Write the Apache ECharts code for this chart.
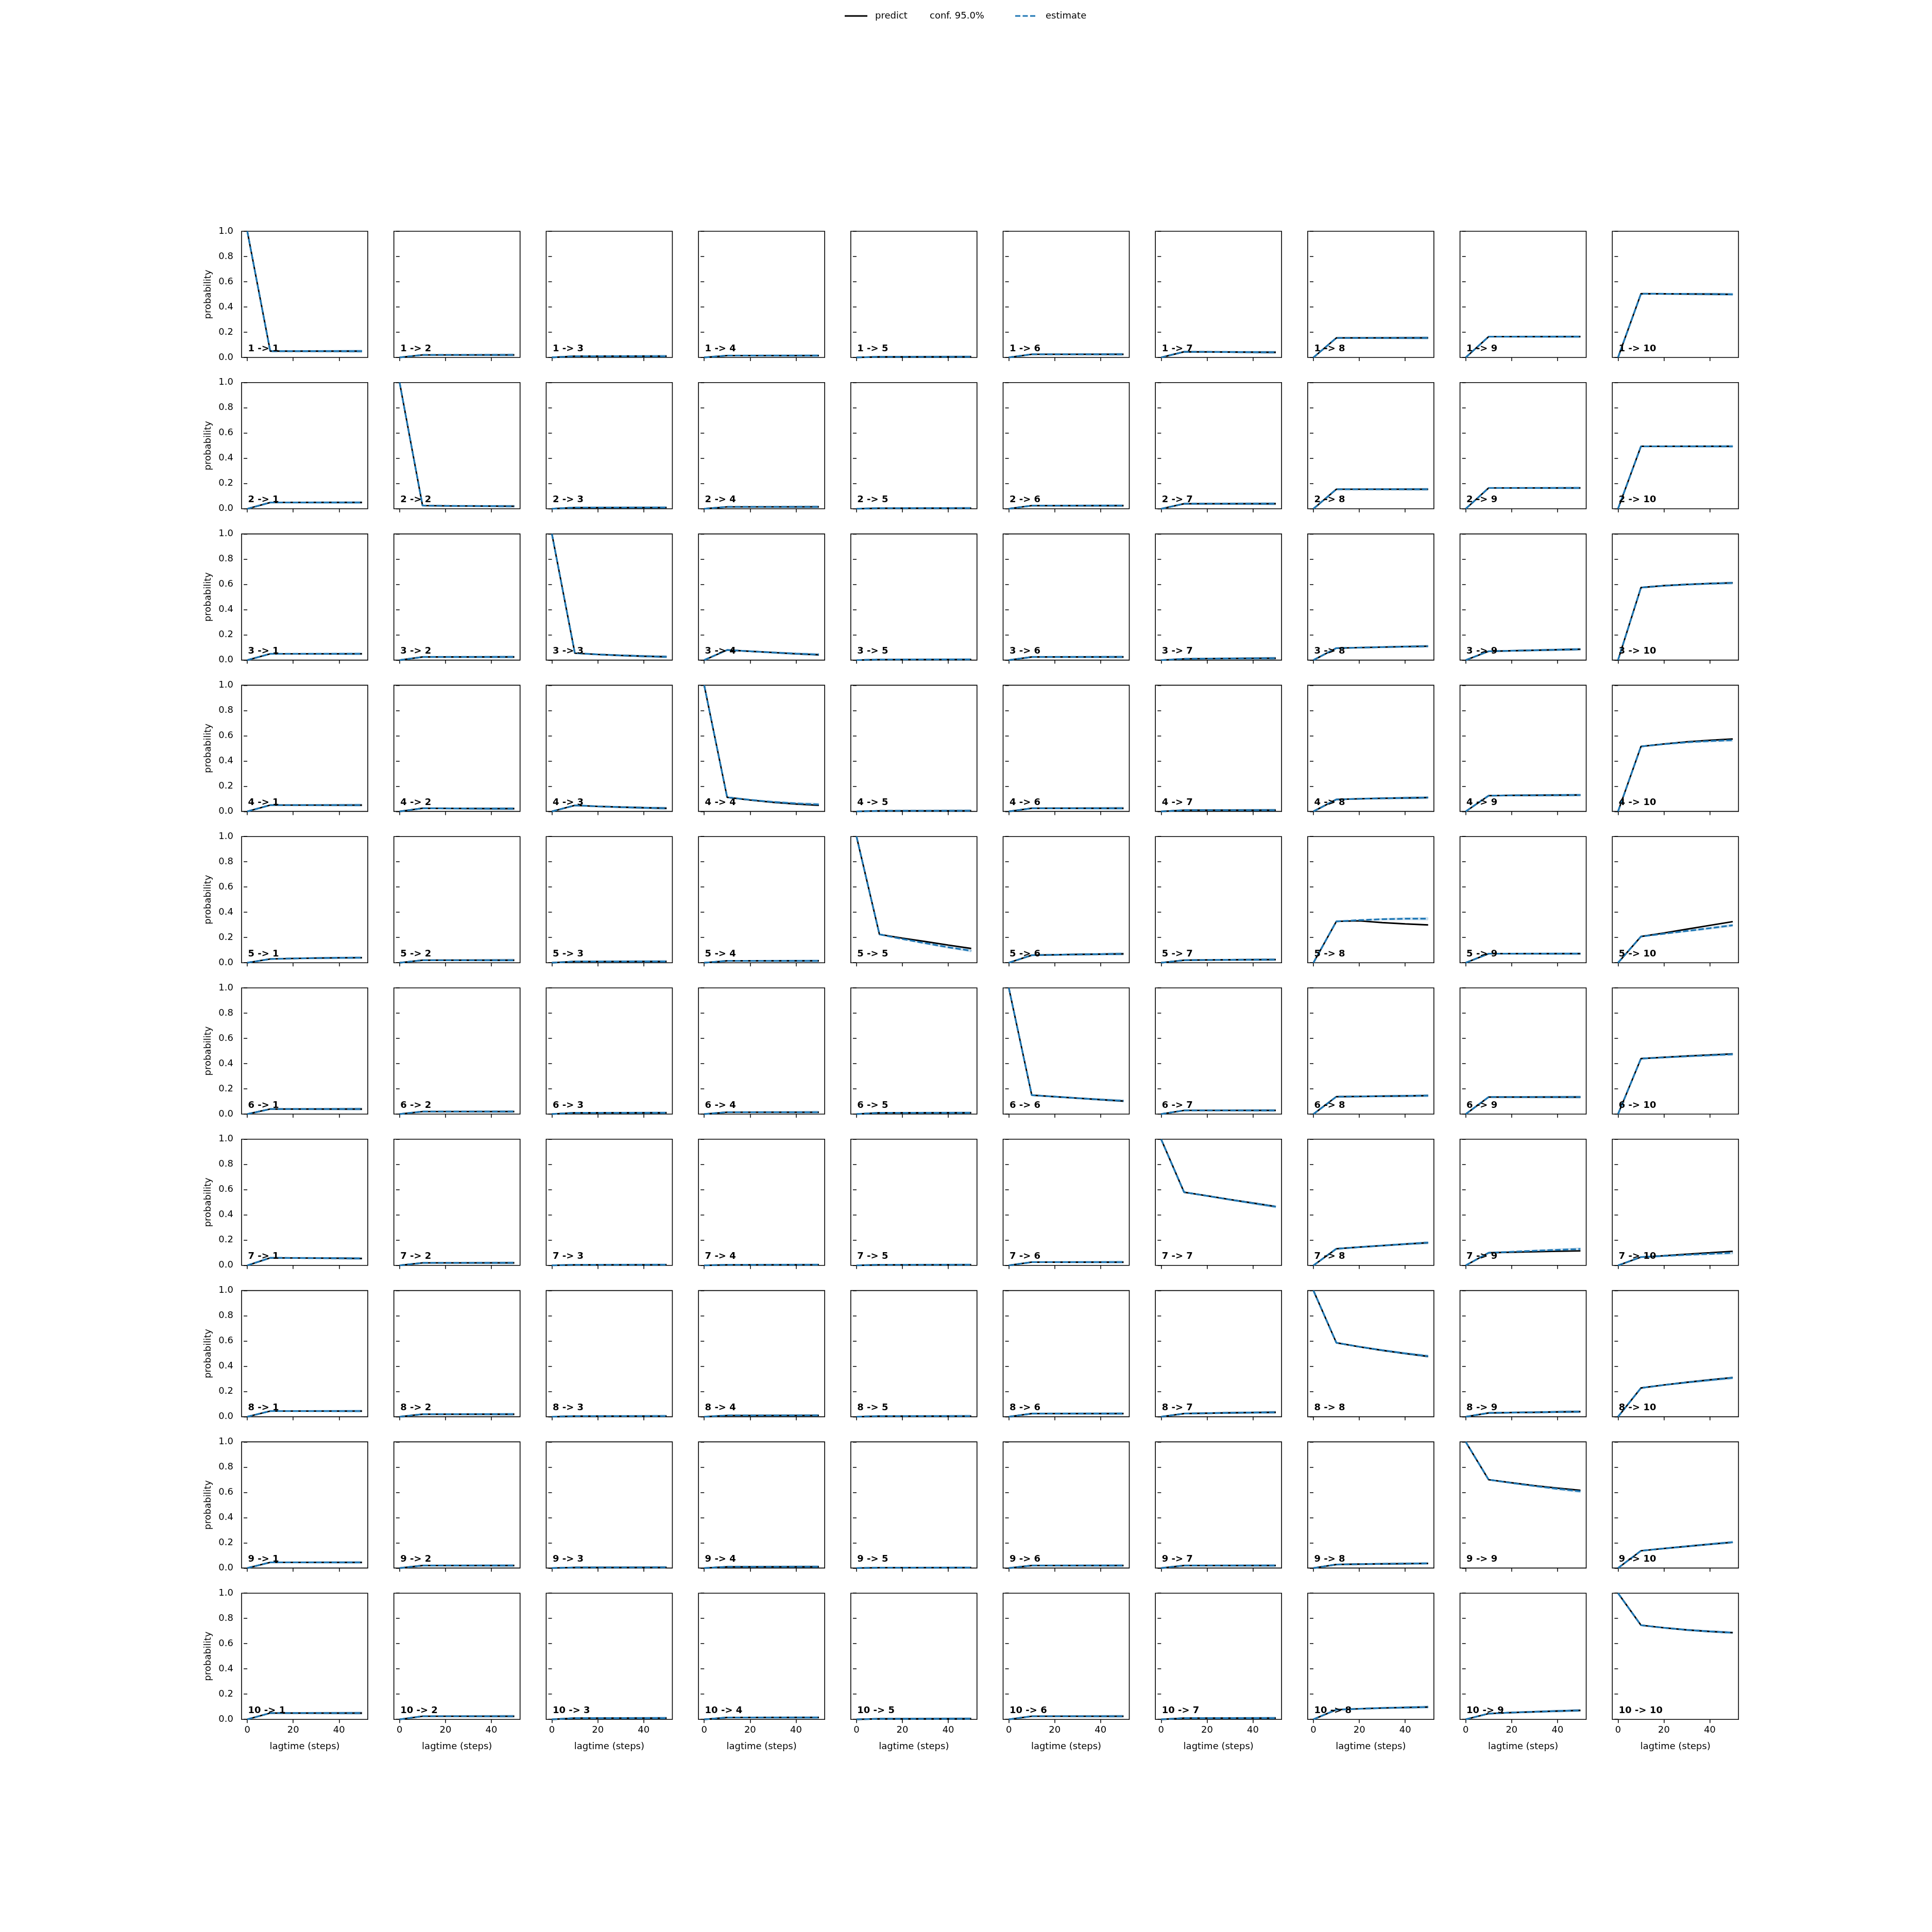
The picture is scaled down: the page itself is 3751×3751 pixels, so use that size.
<!DOCTYPE html>
<html><head><meta charset="utf-8">
<script src="https://cdn.jsdelivr.net/npm/echarts@6/dist/echarts.min.js"></script>
<style>html,body{margin:0;padding:0;background:#fff}#c{width:3751px;height:3751px}</style>
</head><body><div id="c"></div>
<script>
// ---------------- data ----------------
const lagtimes = [0, 10, 20, 30, 40, 50];
const stateLabels = ['1','2','3','4','5','6','7','8','9','10'];
const xTickValues = [0, 20, 40];
const yTickLabels = ['0.0','0.2','0.4','0.6','0.8','1.0'];
const legendNames = ['predict', 'conf. 95.0%', 'estimate'];

const predict_1 = [
 [1,0.05,0.05,0.05,0.05,0.05],[0,0.02,0.02,0.02,0.02,0.02],[0,0.01,0.01,0.01,0.01,0.01],
 [0,0.015,0.015,0.015,0.015,0.015],[0,0.005,0.005,0.005,0.005,0.005],[0,0.025,0.025,0.025,0.025,0.025],
 [0,0.045,0.044,0.043,0.042,0.041],[0,0.155,0.155,0.155,0.155,0.155],[0,0.165,0.165,0.165,0.165,0.165],
 [0,0.505,0.504,0.503,0.502,0.5]];
const estimate_1 = [
 [1,0.05,0.05,0.05,0.05,0.05],[0,0.02,0.02,0.02,0.02,0.02],[0,0.01,0.01,0.01,0.01,0.01],
 [0,0.015,0.015,0.015,0.015,0.015],[0,0.005,0.005,0.005,0.005,0.005],[0,0.025,0.025,0.025,0.025,0.025],
 [0,0.045,0.044,0.043,0.042,0.041],[0,0.155,0.155,0.155,0.155,0.155],[0,0.165,0.165,0.165,0.165,0.165],
 [0,0.505,0.504,0.503,0.502,0.5]];

const predict_2 = [
 [0,0.05,0.05,0.05,0.05,0.05],[1,0.025,0.023,0.022,0.021,0.02],[0,0.01,0.01,0.01,0.01,0.01],
 [0,0.015,0.015,0.015,0.015,0.015],[0,0.005,0.005,0.005,0.005,0.005],[0,0.025,0.025,0.025,0.025,0.025],
 [0,0.04,0.04,0.04,0.04,0.04],[0,0.155,0.155,0.155,0.155,0.155],[0,0.165,0.165,0.165,0.165,0.165],
 [0,0.495,0.495,0.495,0.495,0.495]];
const estimate_2 = [
 [0,0.05,0.05,0.05,0.05,0.05],[1,0.025,0.023,0.022,0.021,0.02],[0,0.01,0.01,0.01,0.01,0.01],
 [0,0.015,0.015,0.015,0.015,0.015],[0,0.005,0.005,0.005,0.005,0.005],[0,0.025,0.025,0.025,0.025,0.025],
 [0,0.04,0.04,0.04,0.04,0.04],[0,0.155,0.155,0.155,0.155,0.155],[0,0.165,0.165,0.165,0.165,0.165],
 [0,0.495,0.495,0.495,0.495,0.495]];

const predict_3 = [
 [0,0.05,0.05,0.05,0.05,0.05],[0,0.025,0.025,0.025,0.025,0.025],[1,0.055,0.045,0.037,0.031,0.026],
 [0,0.08,0.07,0.06,0.05,0.042],[0,0.005,0.005,0.005,0.005,0.005],[0,0.025,0.025,0.025,0.025,0.025],
 [0,0.01,0.012,0.013,0.014,0.015],[0,0.095,0.099,0.103,0.107,0.11],[0,0.07,0.074,0.078,0.082,0.086],
 [0,0.575,0.59,0.6,0.607,0.612]];
const estimate_3 = [
 [0,0.05,0.05,0.05,0.05,0.05],[0,0.025,0.025,0.025,0.025,0.025],[1,0.055,0.045,0.037,0.031,0.026],
 [0,0.08,0.07,0.06,0.051,0.044],[0,0.005,0.005,0.005,0.005,0.005],[0,0.025,0.025,0.025,0.025,0.025],
 [0,0.01,0.012,0.013,0.014,0.015],[0,0.095,0.099,0.103,0.107,0.11],[0,0.07,0.074,0.078,0.082,0.086],
 [0,0.575,0.589,0.599,0.606,0.611]];

const predict_4 = [
 [0,0.05,0.05,0.05,0.05,0.05],[0,0.025,0.024,0.023,0.022,0.022],[0,0.048,0.04,0.034,0.029,0.025],
 [1,0.112,0.09,0.072,0.059,0.048],[0,0.005,0.005,0.005,0.005,0.005],[0,0.025,0.025,0.025,0.025,0.025],
 [0,0.01,0.01,0.01,0.01,0.01],[0,0.095,0.1,0.104,0.107,0.11],[0,0.125,0.127,0.128,0.129,0.13],
 [0,0.515,0.535,0.552,0.564,0.574]];
const estimate_4 = [
 [0,0.05,0.05,0.05,0.05,0.05],[0,0.025,0.024,0.023,0.022,0.022],[0,0.048,0.04,0.034,0.029,0.025],
 [1,0.112,0.092,0.075,0.063,0.055],[0,0.005,0.005,0.005,0.005,0.005],[0,0.025,0.025,0.025,0.025,0.025],
 [0,0.01,0.01,0.01,0.01,0.01],[0,0.095,0.1,0.104,0.107,0.11],[0,0.125,0.127,0.128,0.129,0.13],
 [0,0.515,0.533,0.548,0.558,0.565]];

const predict_5 = [
 [0,0.03,0.034,0.037,0.039,0.04],[0,0.02,0.02,0.02,0.02,0.02],[0,0.01,0.01,0.01,0.01,0.01],
 [0,0.015,0.015,0.015,0.015,0.015],[1,0.225,0.195,0.168,0.14,0.113],[0,0.06,0.063,0.066,0.068,0.07],
 [0,0.02,0.022,0.023,0.024,0.025],[0,0.328,0.332,0.318,0.308,0.3],[0,0.072,0.072,0.072,0.072,0.072],
 [0,0.208,0.236,0.266,0.296,0.326]];
const estimate_5 = [
 [0,0.03,0.034,0.037,0.039,0.04],[0,0.02,0.02,0.02,0.02,0.02],[0,0.01,0.01,0.01,0.01,0.01],
 [0,0.015,0.015,0.015,0.015,0.015],[1,0.225,0.188,0.155,0.123,0.095],[0,0.06,0.063,0.066,0.068,0.07],
 [0,0.02,0.022,0.023,0.024,0.025],[0,0.328,0.338,0.345,0.349,0.349],[0,0.072,0.072,0.072,0.072,0.072],
 [0,0.208,0.23,0.252,0.274,0.297]];

const predict_6 = [
 [0,0.04,0.04,0.04,0.04,0.04],[0,0.02,0.02,0.02,0.02,0.02],[0,0.01,0.01,0.01,0.01,0.01],
 [0,0.015,0.015,0.015,0.015,0.015],[0,0.01,0.01,0.01,0.01,0.01],[1,0.15,0.138,0.126,0.114,0.103],
 [0,0.029,0.029,0.029,0.029,0.029],[0,0.138,0.14,0.142,0.144,0.146],[0,0.135,0.135,0.135,0.135,0.135],
 [0,0.44,0.45,0.46,0.469,0.477]];
const estimate_6 = [
 [0,0.04,0.04,0.04,0.04,0.04],[0,0.02,0.02,0.02,0.02,0.02],[0,0.01,0.01,0.01,0.01,0.01],
 [0,0.015,0.015,0.015,0.015,0.015],[0,0.01,0.01,0.01,0.01,0.01],[1,0.15,0.138,0.126,0.115,0.105],
 [0,0.029,0.029,0.029,0.029,0.029],[0,0.138,0.14,0.142,0.144,0.146],[0,0.135,0.135,0.135,0.135,0.135],
 [0,0.44,0.449,0.458,0.466,0.474]];

const predict_7 = [
 [0,0.06,0.059,0.058,0.057,0.055],[0,0.02,0.02,0.02,0.02,0.02],[0,0.005,0.005,0.005,0.005,0.005],
 [0,0.005,0.005,0.005,0.005,0.005],[0,0.005,0.005,0.005,0.005,0.005],[0,0.026,0.026,0.026,0.026,0.026],
 [1,0.58,0.552,0.522,0.494,0.466],[0,0.132,0.145,0.157,0.169,0.18],[0,0.1,0.104,0.108,0.112,0.115],
 [0,0.066,0.077,0.089,0.1,0.112]];
const estimate_7 = [
 [0,0.06,0.059,0.058,0.057,0.055],[0,0.02,0.02,0.02,0.02,0.02],[0,0.005,0.005,0.005,0.005,0.005],
 [0,0.005,0.005,0.005,0.005,0.005],[0,0.005,0.005,0.005,0.005,0.005],[0,0.026,0.026,0.026,0.026,0.026],
 [1,0.58,0.551,0.521,0.493,0.465],[0,0.132,0.145,0.157,0.169,0.18],[0,0.1,0.108,0.116,0.123,0.13],
 [0,0.066,0.075,0.084,0.092,0.1]];

const predict_8 = [
 [0,0.045,0.045,0.045,0.045,0.045],[0,0.02,0.02,0.02,0.02,0.02],[0,0.005,0.005,0.005,0.005,0.005],
 [0,0.01,0.01,0.01,0.01,0.01],[0,0.005,0.005,0.005,0.005,0.005],[0,0.025,0.025,0.025,0.025,0.025],
 [0,0.025,0.028,0.031,0.033,0.035],[1,0.586,0.554,0.526,0.501,0.478],[0,0.03,0.033,0.035,0.038,0.04],
 [0,0.228,0.252,0.273,0.292,0.31]];
const estimate_8 = [
 [0,0.045,0.045,0.045,0.045,0.045],[0,0.02,0.02,0.02,0.02,0.02],[0,0.005,0.005,0.005,0.005,0.005],
 [0,0.01,0.01,0.01,0.01,0.01],[0,0.005,0.005,0.005,0.005,0.005],[0,0.025,0.025,0.025,0.025,0.025],
 [0,0.025,0.028,0.031,0.033,0.035],[1,0.586,0.555,0.527,0.502,0.48],[0,0.03,0.033,0.035,0.038,0.04],
 [0,0.228,0.251,0.272,0.29,0.308]];

const predict_9 = [
 [0,0.045,0.045,0.045,0.045,0.045],[0,0.02,0.02,0.02,0.02,0.02],[0,0.005,0.005,0.005,0.005,0.005],
 [0,0.01,0.01,0.01,0.01,0.01],[0,0.003,0.003,0.003,0.003,0.003],[0,0.02,0.02,0.02,0.02,0.02],
 [0,0.02,0.02,0.02,0.02,0.02],[0,0.028,0.031,0.033,0.035,0.037],[1,0.7,0.676,0.653,0.634,0.616],
 [0,0.137,0.155,0.172,0.189,0.204]];
const estimate_9 = [
 [0,0.045,0.045,0.045,0.045,0.045],[0,0.02,0.02,0.02,0.02,0.02],[0,0.005,0.005,0.005,0.005,0.005],
 [0,0.01,0.01,0.01,0.01,0.01],[0,0.003,0.003,0.003,0.003,0.003],[0,0.02,0.02,0.02,0.02,0.02],
 [0,0.02,0.02,0.02,0.02,0.02],[0,0.028,0.031,0.033,0.035,0.037],[1,0.7,0.674,0.65,0.628,0.608],
 [0,0.137,0.155,0.172,0.189,0.205]];

const predict_10 = [
 [0,0.05,0.05,0.05,0.05,0.05],[0,0.025,0.025,0.025,0.025,0.025],[0,0.01,0.01,0.01,0.01,0.01],
 [0,0.015,0.015,0.015,0.015,0.015],[0,0.005,0.005,0.005,0.005,0.005],[0,0.025,0.025,0.025,0.025,0.025],
 [0,0.01,0.01,0.01,0.01,0.01],[0,0.077,0.084,0.09,0.094,0.098],[0,0.046,0.054,0.06,0.066,0.071],
 [1,0.746,0.726,0.709,0.697,0.687]];
const estimate_10 = [
 [0,0.05,0.05,0.05,0.05,0.05],[0,0.025,0.025,0.025,0.025,0.025],[0,0.01,0.01,0.01,0.01,0.01],
 [0,0.015,0.015,0.015,0.015,0.015],[0,0.005,0.005,0.005,0.005,0.005],[0,0.025,0.025,0.025,0.025,0.025],
 [0,0.01,0.01,0.01,0.01,0.01],[0,0.077,0.084,0.09,0.094,0.098],[0,0.046,0.054,0.06,0.066,0.071],
 [1,0.746,0.726,0.709,0.697,0.687]];

// half widths of the 95% confidence bands (read approximately)
const predictConf = [0, 0.002, 0.003, 0.004, 0.005, 0.006];
const estimateConf = [0, 0.004, 0.007, 0.009, 0.011, 0.013];

// ---------------- layout / styles ----------------
const predictRows = [predict_1,predict_2,predict_3,predict_4,predict_5,predict_6,predict_7,predict_8,predict_9,predict_10];
const estimateRows = [estimate_1,estimate_2,estimate_3,estimate_4,estimate_5,estimate_6,estimate_7,estimate_8,estimate_9,estimate_10];
const FONT = '"DejaVu Sans", "Liberation Sans", sans-serif';
const X0 = 469, DX = 295.7, Y0 = 449, DY = 293.8, W = 245, H = 245;
const BLUE = '#1f77b4';

function bandRenderer(vals, conf, color) {
  return function (params, api) {
    const up = lagtimes.map((t, k) => api.coord([t, Math.min(1, vals[k] + conf[k])]));
    const lo = lagtimes.map((t, k) => api.coord([t, Math.max(0, vals[k] - conf[k])])).reverse();
    return { type: 'polygon', shape: { points: up.concat(lo) }, style: { fill: color } };
  };
}

const grids = [], xAxes = [], yAxes = [], series = [], graphics = [];
for (let r = 0; r < 10; r++) {
  for (let c = 0; c < 10; c++) {
    const idx = r * 10 + c;
    const left = X0 + c * DX, top = Y0 + r * DY;
    grids.push({ left: left, top: top, width: W, height: H, show: true,
      borderColor: '#000', borderWidth: 1.6, backgroundColor: '#fff' });
    xAxes.push({ type: 'value', gridIndex: idx, min: -2.5, max: 52.5,
      axisLine: { show: false }, splitLine: { show: false },
      axisTick: { show: true, inside: false, length: 7, customValues: xTickValues, lineStyle: { color: '#000', width: 1.5 } },
      axisLabel: { show: r === 9, customValues: xTickValues, margin: 12, fontSize: 18, color: '#000', fontFamily: FONT },
      name: r === 9 ? 'lagtime (steps)' : '', nameLocation: 'middle', nameGap: 44,
      nameTextStyle: { fontSize: 18, color: '#000', fontFamily: FONT } });
    yAxes.push({ type: 'value', gridIndex: idx, min: 0, max: 1, interval: 0.2,
      axisLine: { show: false }, splitLine: { show: false },
      axisTick: { show: true, inside: false, length: 7, lineStyle: { color: '#000', width: 1.5 } },
      axisLabel: { show: c === 0, margin: 16, fontSize: 18, color: '#000', fontFamily: FONT,
        formatter: v => yTickLabels[Math.round(v * 5)] },
      name: c === 0 ? 'probability' : '', nameLocation: 'middle', nameRotate: 90, nameGap: 56,
      nameTextStyle: { fontSize: 18, color: '#000', fontFamily: FONT } });

    const pv = predictRows[r][c], ev = estimateRows[r][c];
    series.push({ type: 'custom', name: 'predict band', xAxisIndex: idx, yAxisIndex: idx, silent: true, clip: true,
      data: [[0, 0]], renderItem: bandRenderer(pv, predictConf, 'rgba(0,0,0,0.12)'), z: 1 });
    series.push({ type: 'custom', name: 'conf. 95.0%', xAxisIndex: idx, yAxisIndex: idx, silent: true, clip: true,
      itemStyle: { color: 'rgba(31,119,180,0.25)' },
      data: [[0, 0]], renderItem: bandRenderer(ev, estimateConf, 'rgba(31,119,180,0.22)'), z: 2 });
    series.push({ type: 'line', name: 'predict', xAxisIndex: idx, yAxisIndex: idx,
      data: lagtimes.map((t, k) => [t, pv[k]]), symbol: 'none', showSymbol: false,
      lineStyle: { color: '#000', width: 2.9 }, itemStyle: { color: '#000' }, z: 3, silent: true });
    series.push({ type: 'line', name: 'estimate', xAxisIndex: idx, yAxisIndex: idx,
      data: lagtimes.map((t, k) => [t, ev[k]]), symbol: 'none', showSymbol: false,
      lineStyle: { color: BLUE, width: 3.3, type: [10.5, 4.5] }, itemStyle: { color: BLUE }, z: 4, silent: true });

    graphics.push({ type: 'text', x: left + 12.5, y: top + H - 12 + 4, z: 100, silent: true,
      style: { text: stateLabels[r] + ' -> ' + stateLabels[c], fill: '#000',
        font: 'bold 18px ' + FONT, verticalAlign: 'bottom', align: 'left' } });
  }
}

const legendText = { fontSize: 18, color: '#000', fontFamily: FONT, padding: [0, 0, 0, 10] };
const dashIcon = 'path://M0,0h10v3h-10zM14.5,0h10v3h-10zM29,0h10v3h-10z';
const LEG_TOP = 17;
const option = {
  animation: false,
  backgroundColor: '#fff',
  textStyle: { fontFamily: FONT },
  legend: [
    { data: [{ name: legendNames[0], icon: 'rect', itemStyle: { color: '#000' } }], left: 1635, top: LEG_TOP, itemWidth: 44, itemHeight: 3,
      symbolKeepAspect: false, selectedMode: false, textStyle: legendText },
    { data: [{ name: legendNames[1], icon: 'rect', itemStyle: { opacity: 0 } }], left: 1784, top: LEG_TOP, itemWidth: 1, itemHeight: 3,
      symbolKeepAspect: false, selectedMode: false, textStyle: legendText },
    { data: [{ name: legendNames[2], icon: dashIcon, itemStyle: { color: BLUE } }], left: 1966, top: LEG_TOP, itemWidth: 39, itemHeight: 3,
      symbolKeepAspect: false, selectedMode: false, textStyle: Object.assign({}, legendText, { padding: [0, 0, 0, 15] }) }
  ],
  grid: grids, xAxis: xAxes, yAxis: yAxes, series: series, graphic: graphics
};
const chart = echarts.init(document.getElementById('c'), null, { renderer: 'canvas' });
chart.setOption(option);
</script></body></html>
